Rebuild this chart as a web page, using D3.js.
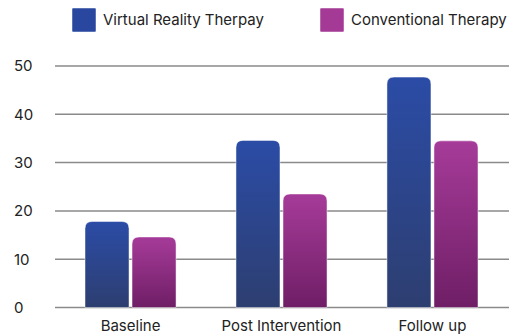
<!DOCTYPE html>
<html>
<head>
<meta charset="utf-8">
<script src="https://cdn.jsdelivr.net/npm/d3@7/dist/d3.min.js"></script>
<style>
  html, body { margin: 0; padding: 0; background: #fff; }
  svg { display: block; font-family: Inter, "Noto Sans", sans-serif; }
</style>
</head>
<body>
<svg id="chart" width="509" height="336"></svg>
<script>
// Study phases and scores for each therapy group
const categories = ["Baseline", "Post Intervention", "Follow up"];
const seriesNames = ["Virtual Reality Therpay", "Conventional Therapy"];
const vrValues = [17.8, 34.6, 47.7];
const conventionalValues = [14.6, 23.5, 34.5];
const yTicks = [0, 10, 20, 30, 40, 50];

const seriesValues = [vrValues, conventionalValues];
const gradients = [
  { id: "gradVR", top: "#2b4ca6", bottom: "#2d3e70", swatch: "#2a47a0" },
  { id: "gradConv", top: "#a63b99", bottom: "#6f1e66", swatch: "#a43a95" }
];

const svg = d3.select("#chart");
const margin = { left: 55 };
const W = 509;

const defs = svg.append("defs");
gradients.forEach(g => {
  const lg = defs.append("linearGradient")
    .attr("id", g.id).attr("x1", 0).attr("y1", 0).attr("x2", 0).attr("y2", 1);
  lg.append("stop").attr("offset", "0%").attr("stop-color", g.top);
  lg.append("stop").attr("offset", "100%").attr("stop-color", g.bottom);
});

const y = d3.scaleLinear().domain([0, 50]).range([307.5, 66]);
const x = d3.scaleBand().domain(categories).range([53, 510]).paddingInner(0.397).paddingOuter(0.212);
const xs = d3.scaleBand().domain(seriesNames).range([0, x.bandwidth()]).paddingInner(0.064);

// Gridlines
svg.append("g")
  .selectAll("line").data(yTicks).join("line")
  .attr("x1", margin.left).attr("x2", W)
  .attr("y1", d => y(d)).attr("y2", d => y(d))
  .attr("stroke", "#8a8a8a").attr("stroke-width", 1.5);

// Y tick labels
svg.append("g")
  .selectAll("text").data(yTicks).join("text")
  .attr("x", 14).attr("y", d => y(d)).attr("dy", "0.36em")
  .attr("font-size", 15).attr("fill", "#222")
  .text(d => d);

// Bars: rounded top corners, square bottom
function barPath(x0, w, yTop, yBottom, r) {
  const rr = Math.min(r, w / 2, (yBottom - yTop));
  return `M${x0},${yBottom}V${yTop + rr}Q${x0},${yTop} ${x0 + rr},${yTop}` +
         `H${x0 + w - rr}Q${x0 + w},${yTop} ${x0 + w},${yTop + rr}V${yBottom}Z`;
}

const groups = svg.append("g").selectAll("g").data(categories).join("g")
  .attr("transform", d => `translate(${x(d)},0)`);

groups.selectAll("path")
  .data((c, ci) => seriesNames.map((s, si) => ({ s, si, v: seriesValues[si][ci] })))
  .join("path")
  .attr("d", d => barPath(xs(d.s), xs.bandwidth(), y(d.v), y(0), 7))
  .attr("fill", d => `url(#${gradients[d.si].id})`)
  .attr("stroke", "rgba(255,255,255,0.6)").attr("stroke-width", 0.8);

// Category labels
svg.append("g").selectAll("text").data(categories).join("text")
  .attr("x", d => x(d) + x.bandwidth() / 2).attr("y", 331)
  .attr("text-anchor", "middle").attr("font-size", 15).attr("fill", "#222")
  .text(d => d);

// Legend
const legendX = [72, 320];
const legend = svg.append("g").selectAll("g").data(seriesNames).join("g")
  .attr("transform", (d, i) => `translate(${legendX[i]},8)`);
legend.append("rect")
  .attr("width", 24).attr("height", 24).attr("rx", 1)
  .attr("fill", (d, i) => gradients[i].swatch)
  .attr("stroke", "rgba(255,255,255,0.6)").attr("stroke-width", 0.8);
legend.append("text")
  .attr("x", 31).attr("y", 12).attr("dy", "0.36em")
  .attr("font-size", 15).attr("fill", "#222")
  .text(d => d);
</script>
</body>
</html>
